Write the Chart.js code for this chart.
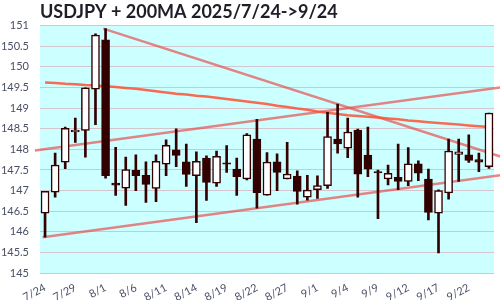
<!DOCTYPE html>
<html>
<head>
<meta charset="utf-8">
<script src="https://cdn.jsdelivr.net/npm/chart.js@4"></script>
<style>
  html, body { margin: 0; padding: 0; background: #fff; }
  #wrap { width: 500px; height: 300px; }
</style>
</head>
<body>
<div id="wrap"><canvas id="c"></canvas></div>
<script>
// trading days 2025/7/24 -> 9/24
const dates = ['7/24','7/25','7/28','7/29','7/30','7/31','8/1','8/4','8/5','8/6','8/7','8/8',
  '8/11','8/12','8/13','8/14','8/15','8/18','8/19','8/20','8/21','8/22','8/25','8/26','8/27',
  '8/28','8/29','9/1','9/2','9/3','9/4','9/5','9/8','9/9','9/10','9/11','9/12','9/15','9/16',
  '9/17','9/18','9/19','9/22','9/23','9/24'];

const opens  = [146.45,146.96,147.69,148.42,148.46,149.46,150.66,147.18,147.06,147.49,147.37,147.05,
  147.64,147.99,147.70,147.36,147.79,147.18,147.67,147.52,147.28,148.25,146.89,147.70,147.28,
  147.35,146.84,147.02,147.12,148.25,148.03,148.47,147.86,147.46,147.28,147.32,147.22,147.65,147.28,
  146.45,146.94,147.88,147.87,147.75,147.58];
const highs  = [146.98,147.91,148.54,148.76,149.49,150.80,150.93,148.05,147.81,147.87,147.70,147.87,
  148.23,148.50,148.13,147.94,147.84,147.96,148.09,147.79,148.38,148.73,147.92,147.89,148.17,
  147.48,147.37,147.36,148.90,149.10,148.76,148.49,148.54,147.50,147.62,148.13,148.04,147.72,147.52,
  147.02,148.25,148.25,148.35,147.91,148.88];
const lows   = [145.87,146.84,147.53,148.17,147.81,148.60,147.30,146.88,146.64,147.00,146.71,146.73,
  147.36,147.58,147.10,146.22,146.76,147.10,147.44,146.88,147.26,146.57,146.89,147.00,147.28,
  146.67,146.77,146.81,147.05,147.91,147.80,146.84,147.34,146.32,147.14,147.02,147.12,147.24,146.29,
  145.49,146.79,147.22,147.68,147.46,147.54];
const closes = [146.98,147.62,148.51,148.47,149.49,150.77,147.36,147.13,147.51,147.36,147.15,147.71,
  148.10,147.85,147.39,147.71,147.20,147.83,147.64,147.34,148.35,146.95,147.69,147.44,147.40,
  146.98,147.01,147.12,148.31,148.13,148.42,147.40,147.52,147.43,147.42,147.22,147.65,147.42,146.47,
  147.00,147.96,147.94,147.73,147.69,148.88];

const ma200 = [149.62,149.61,149.59,149.58,149.56,149.55,149.53,149.51,149.49,149.47,149.44,149.41,
  149.38,149.35,149.33,149.30,149.28,149.25,149.22,149.19,149.16,149.13,149.10,149.06,149.03,
  148.99,148.96,148.92,148.89,148.86,148.83,148.81,148.79,148.77,148.75,148.73,148.70,148.68,148.66,
  148.64,148.62,148.60,148.58,148.56,148.54];

// trend lines: [start, end] in day index / price
const downX = [5.77, 45.6],  downY = [150.93, 147.79];
const upX   = [-1.01, 45.6], upY   = [147.97, 149.52];
const lowX  = [-0.25, 45.6], lowY  = [145.87, 147.39];

const yTicks = [145, 145.5, 146, 146.5, 147, 147.5, 148, 148.5, 149, 149.5, 150, 150.5, 151];

const DARK = '#330000';
const FONT = 'Lato, "Open Sans", sans-serif';

const pts = (xs, ys) => xs.map((x, i) => ({ x: x, y: ys[i] }));

const bgPlugin = {
  id: 'plotBg',
  beforeDraw(chart) {
    const a = chart.chartArea;
    const ctx = chart.ctx;
    ctx.save();
    ctx.fillStyle = '#ccffff';
    ctx.fillRect(a.left, a.top, a.right - a.left, a.bottom - a.top);
    ctx.restore();
  }
};

function trend(data) {
  return {
    type: 'line',
    xAxisID: 'x2',
    data: data,
    borderColor: 'rgba(232, 80, 80, 0.7)',
    borderWidth: 2.5,
    pointRadius: 0,
    clip: false,
    order: 10
  };
}

new Chart(document.getElementById('c'), {
  type: 'bar',
  data: {
    labels: dates,
    datasets: [
      {
        label: 'wick',
        data: dates.map((d, i) => [lows[i], highs[i]]),
        backgroundColor: DARK,
        barThickness: 2,
        grouped: false,
        order: 2
      },
      {
        label: 'body',
        data: dates.map((d, i) => [opens[i], closes[i]]),
        backgroundColor: dates.map((d, i) => closes[i] >= opens[i] ? '#ffffff' : DARK),
        borderColor: DARK,
        borderWidth: 1.5,
        borderSkipped: false,
        barThickness: 8,
        grouped: false,
        order: 1
      },
      {
        type: 'line',
        label: '200MA',
        xAxisID: 'x2',
        data: pts(dates.map((d, i) => i), ma200),
        borderColor: 'rgba(255, 80, 50, 0.85)',
        borderWidth: 2.5,
        pointRadius: 0,
        order: 9
      },
      trend(pts(downX, downY)),
      trend(pts(upX, upY)),
      trend(pts(lowX, lowY))
    ]
  },
  options: {
    responsive: true,
    maintainAspectRatio: false,
    animation: false,
    layout: { padding: { left: 0, right: 6, top: 2, bottom: 0 } },
    plugins: {
      legend: { display: false },
      tooltip: { enabled: false },
      title: {
        display: true,
        text: 'USDJPY + 200MA 2025/7/24->9/24',
        align: 'start',
        fullSize: false,
        color: '#1e1e28',
        font: { family: FONT, size: 18, weight: 'bold', lineHeight: 1.15 },
        padding: { top: 0, bottom: 3 }
      }
    },
    scales: {
      x: {
        grid: { display: false },
        border: { display: false },
        afterFit: function (axis) { axis.height = 27; },
        ticks: {
          autoSkip: false,
          minRotation: 28,
          maxRotation: 28,
          padding: 0,
          color: '#4a4f66',
          font: { family: FONT, size: 11 },
          callback: function (value, index) {
            return index % 3 === 0 ? dates[index] : '';
          }
        }
      },
      x2: {
        type: 'linear',
        display: false,
        offset: false,
        min: -0.5,
        max: dates.length - 0.5
      },
      y: {
        min: 145,
        max: 151,
        afterBuildTicks: function (axis) {
          axis.ticks = yTicks.map(v => ({ value: v }));
        },
        afterFit: function (axis) { axis.width = 40; },
        grid: { color: '#d2c6cc', lineWidth: 1, drawTicks: false },
        border: { display: false },
        ticks: {
          padding: 11,
          color: '#4a4f66',
          font: { family: FONT, size: 11 },
          callback: function (value) {
            return String(value);
          }
        }
      }
    }
  },
  plugins: [bgPlugin]
});
</script>
</body>
</html>
